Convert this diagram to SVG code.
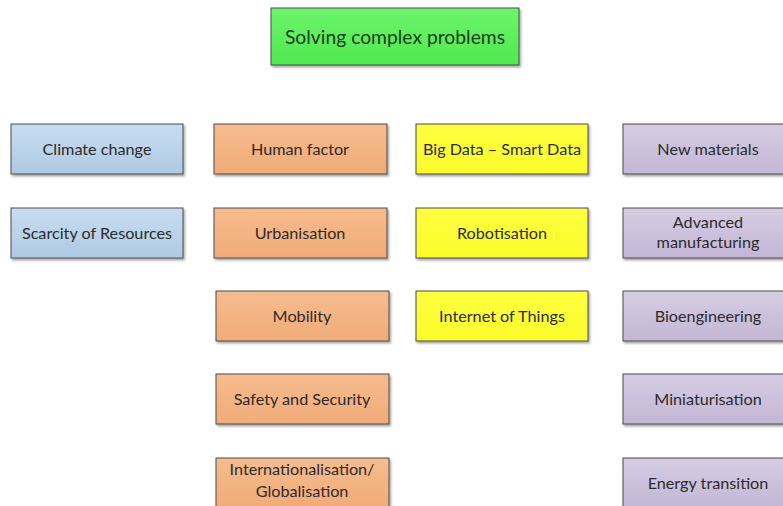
<svg xmlns="http://www.w3.org/2000/svg" width="783" height="506" viewBox="0 0 783 506">
<defs>
<linearGradient id="gGreen" x1="0" y1="0" x2="0" y2="1"><stop offset="0" stop-color="#6cf56c"/><stop offset="1" stop-color="#4fe84f"/></linearGradient>
<linearGradient id="gBlue" x1="0" y1="0" x2="0" y2="1"><stop offset="0" stop-color="#c8dcef"/><stop offset="1" stop-color="#afcae5"/></linearGradient>
<linearGradient id="gOrange" x1="0" y1="0" x2="0" y2="1"><stop offset="0" stop-color="#f6bc8f"/><stop offset="1" stop-color="#f1ab78"/></linearGradient>
<linearGradient id="gYellow" x1="0" y1="0" x2="0" y2="1"><stop offset="0" stop-color="#ffff40"/><stop offset="1" stop-color="#fbfb2a"/></linearGradient>
<linearGradient id="gPurple" x1="0" y1="0" x2="0" y2="1"><stop offset="0" stop-color="#d6cde3"/><stop offset="1" stop-color="#c3b6d6"/></linearGradient>
<filter id="sh" x="-5%" y="-10%" width="115%" height="130%"><feDropShadow dx="1.5" dy="2" stdDeviation="1.2" flood-color="#000" flood-opacity="0.35"/></filter>
</defs>
<style>
rect{stroke:#4a4a4a;stroke-width:1;filter:url(#sh)}
.g{fill:url(#gGreen)}.b{fill:url(#gBlue)}.o{fill:url(#gOrange)}.y{fill:url(#gYellow)}.p{fill:url(#gPurple)}
text{font-family:Lato,"Open Sans","Liberation Sans",sans-serif;font-size:16.2px;fill:#2b2b2b;text-anchor:middle}
.t{font-size:19.3px;fill:#1e3d1e}
</style>
<rect width="783" height="506" fill="#fff" style="filter:none;stroke:none"/>
<g id="top"><rect class="g" x="271" y="8" width="248" height="57"/><text class="t" x="395" y="44">Solving complex problems</text></g>
<g id="climate"><rect class="b" x="11" y="124" width="172" height="50"/><text x="97" y="155">Climate change</text></g>
<g id="scarcity"><rect class="b" x="11" y="208" width="172" height="50"/><text x="97" y="239">Scarcity of Resources</text></g>
<g id="human"><rect class="o" x="214" y="124" width="173" height="50"/><text x="300" y="155">Human factor</text></g>
<g id="urban"><rect class="o" x="214" y="208" width="173" height="50"/><text x="300" y="239">Urbanisation</text></g>
<g id="mobility"><rect class="o" x="216" y="291" width="173" height="50"/><text x="302" y="322">Mobility</text></g>
<g id="safety"><rect class="o" x="216" y="374" width="173" height="50"/><text x="302" y="405">Safety and Security</text></g>
<g id="intl"><rect class="o" x="216" y="458" width="173" height="50"/><text x="302" y="475">Internationalisation/</text><text x="302" y="497">Globalisation</text></g>
<g id="bigdata"><rect class="y" x="416" y="124" width="172" height="50"/><text x="502" y="155">Big Data – Smart Data</text></g>
<g id="robot"><rect class="y" x="416" y="208" width="172" height="50"/><text x="502" y="239">Robotisation</text></g>
<g id="iot"><rect class="y" x="416" y="291" width="172" height="50"/><text x="502" y="322">Internet of Things</text></g>
<g id="newmat"><rect class="p" x="623" y="124" width="172" height="50"/><text x="708" y="155">New materials</text></g>
<g id="advman"><rect class="p" x="623" y="208" width="172" height="50"/><text x="708" y="228">Advanced</text><text x="708" y="248">manufacturing</text></g>
<g id="bio"><rect class="p" x="623" y="291" width="172" height="50"/><text x="708" y="322">Bioengineering</text></g>
<g id="mini"><rect class="p" x="623" y="374" width="172" height="50"/><text x="708" y="405">Miniaturisation</text></g>
<g id="energy"><rect class="p" x="623" y="458" width="172" height="50"/><text x="708" y="489">Energy transition</text></g>
<g id="connectors"/>
</svg>
